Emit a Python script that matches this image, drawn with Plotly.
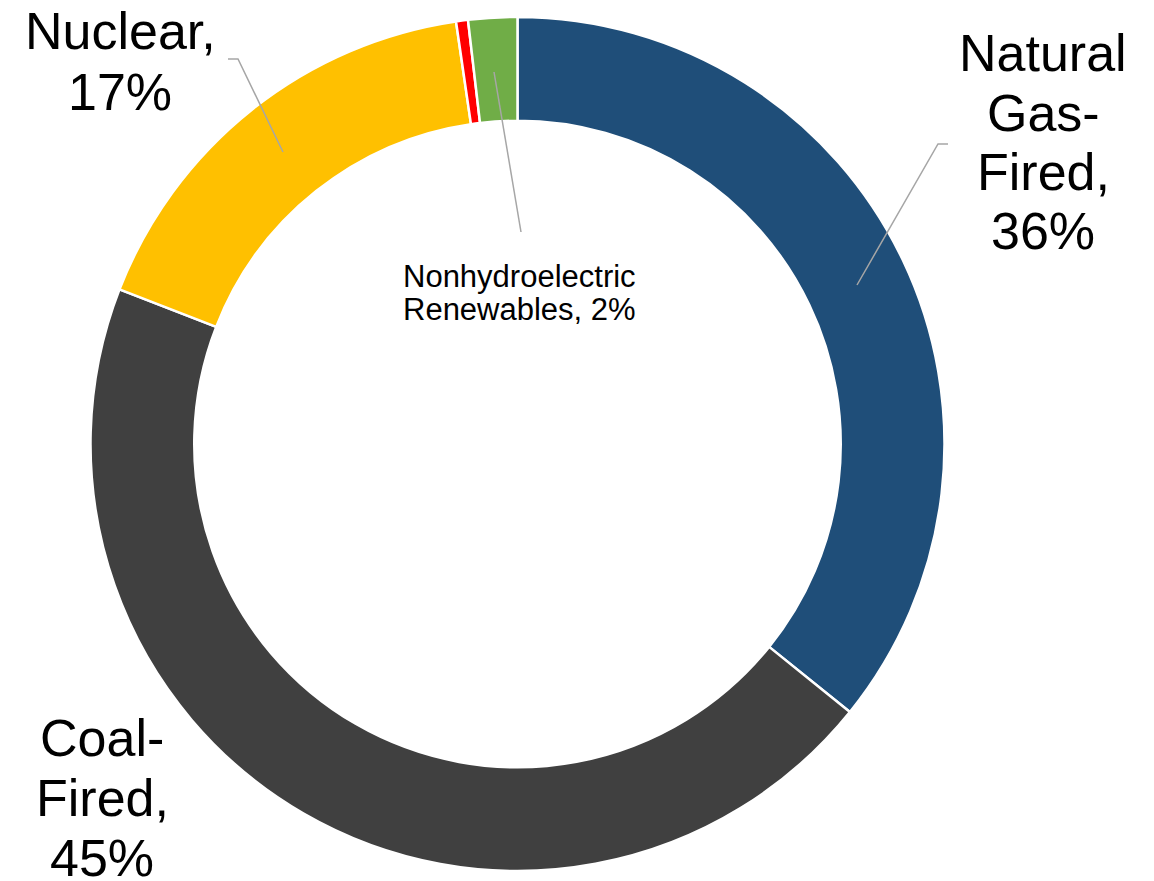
import plotly.graph_objects as go

W, H = 1154, 881

# Data
sources = ["Natural Gas-Fired", "Coal-Fired", "Nuclear", "Petroleum-Fired", "Nonhydroelectric Renewables"]
shares = [35.8, 45.1, 16.8, 0.45, 1.85]
colors = ["#1F4E79", "#404040", "#FFC000", "#FF0000", "#70AD47"]

# Label text (one entry per line)
label_lines = {
    "Natural Gas-Fired": ["Natural", "Gas-", "Fired,", "36%"],
    "Coal-Fired": ["Coal-", "Fired,", "45%"],
    "Nuclear": ["Nuclear,", "17%"],
    "Nonhydroelectric Renewables": ["Nonhydroelectric", "Renewables, 2%"],
}


def px(x):
    return x / W


def py(y):
    return 1 - y / H


fig = go.Figure(
    go.Pie(
        labels=sources,
        values=shares,
        sort=False,
        direction="clockwise",
        rotation=0,
        hole=0.757,
        marker=dict(colors=colors, line=dict(color="white", width=2.5)),
        textinfo="none",
        hoverinfo="label+percent",
        domain=dict(x=[px(89), px(946)], y=[py(871), py(17)]),
    )
)

annotations = []
# label placement: (center x, first line center y, line spacing, font size)
placements = {
    "Natural Gas-Fired": (1043, 53, 59.5, 52),
    "Coal-Fired": (102, 738, 60, 52),
    "Nuclear": (120, 31, 61, 52),
    "Nonhydroelectric Renewables": (519, 276, 34, 31),
}
for name, lines in label_lines.items():
    cx, cy, sp, fs = placements[name]
    for i, t in enumerate(lines):
        annotations.append(
            dict(
                x=px(cx), y=py(cy + i * sp), xref="paper", yref="paper",
                text=t, showarrow=False, xanchor="center", yanchor="middle",
                font=dict(family="Liberation Sans, Arial, sans-serif", size=fs, color="black"),
            )
        )

leader = dict(color="#A6A6A6", width=1.5)
paths = [
    [(228, 59), (238, 59), (283, 152)],
    [(948, 144), (938, 144), (857, 285)],
    [(494, 72), (521, 232)],
]
shapes = []
for pts in paths:
    d = "M " + " L ".join(f"{px(x)},{py(y)}" for x, y in pts)
    shapes.append(dict(type="path", path=d, xref="paper", yref="paper", line=leader))

fig.update_layout(
    width=W, height=H,
    margin=dict(l=0, r=0, t=0, b=0),
    showlegend=False,
    paper_bgcolor="white",
    plot_bgcolor="white",
    annotations=annotations,
    shapes=shapes,
)

fig.write_html("out.html")
